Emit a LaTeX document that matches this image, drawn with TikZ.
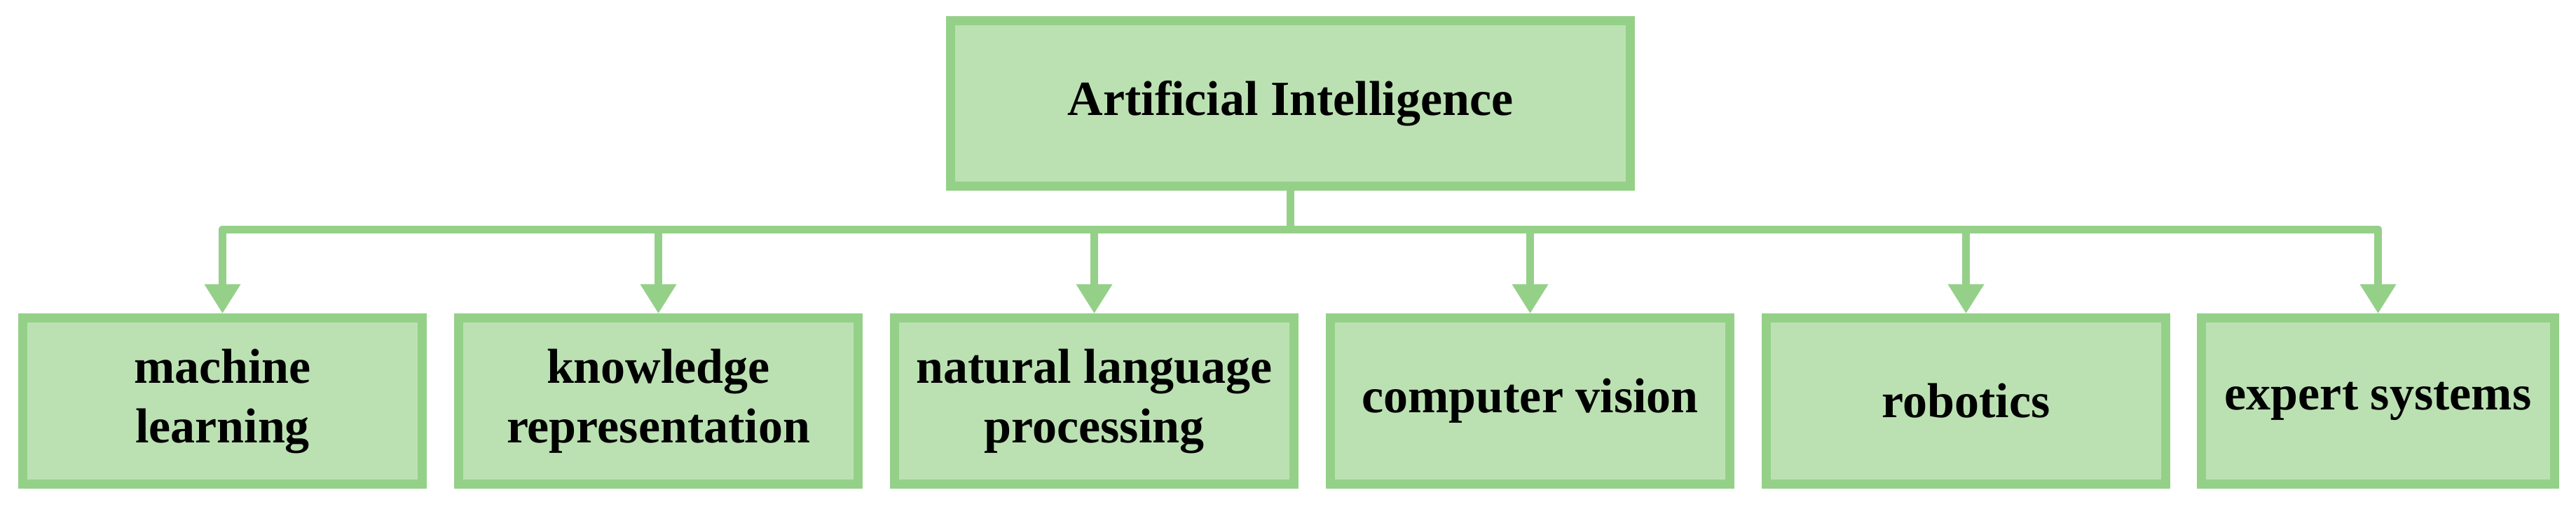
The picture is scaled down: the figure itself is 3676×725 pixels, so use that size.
\documentclass[tikz,border=0pt]{standalone}
\usepackage{fontspec}
\setmainfont{Liberation Serif}
\usetikzlibrary{arrows.meta}
\definecolor{boxline}{RGB}{149,208,137}
\definecolor{boxfill}{RGB}{187,225,178}
\begin{document}
\begin{tikzpicture}[x=0.2pt,y=-0.2pt,
  box/.style={draw=boxline, fill=boxfill, line width=2.6pt, minimum height=47.3pt,
    align=center, inner sep=0pt, text=black,
    font=\fontsize{14pt}{17pt}\selectfont\bfseries},
  conn/.style={draw=boxline, line width=2.3pt, line join=round,
    -{Triangle[length=8.4pt,width=9.8pt]}}]
\useasboundingbox (0,0) rectangle (3676,725);
\node[box, minimum width=194pt] (ai) at (1841.5,147.5) {Artificial Intelligence};
\node[box, minimum width=114pt] (ml) at (317.5,572) {machine\\learning};
\node[box, minimum width=114pt] (kr) at (939.5,572) {knowledge\\representation};
\node[box, minimum width=114pt] (nlp) at (1561.5,572) {natural language\\processing};
\node[box, minimum width=114pt] (cv) at (2183.5,572) {computer vision};
\node[box, minimum width=114pt] (rob) at (2805.5,572) {robotics};
\node[box, minimum width=100.8pt] (es) at (3393.5,572) {expert systems};
\coordinate (bus) at (1841.5,327.5);
\foreach \c in {ml,kr,nlp,cv,rob,es}
  \draw[conn] (ai.south) -- (ai.south |- bus) -| (\c.north);
\end{tikzpicture}
\end{document}
